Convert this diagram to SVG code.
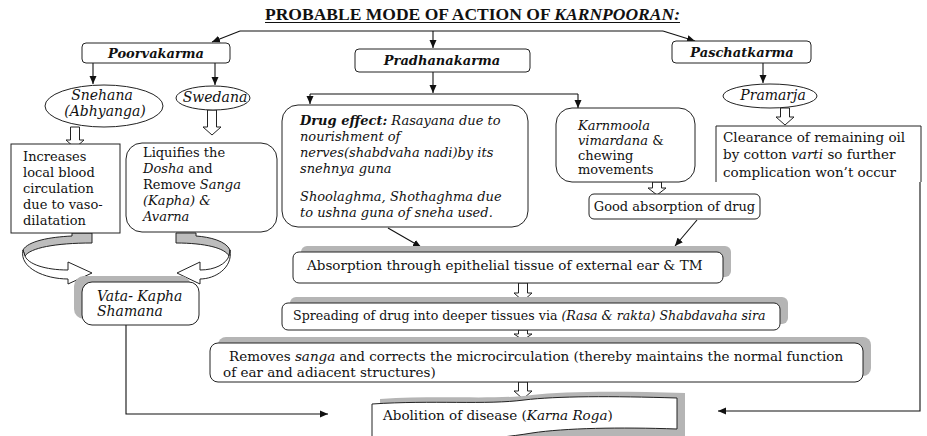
<svg xmlns="http://www.w3.org/2000/svg" width="927" height="436" viewBox="0 0 927 436">
<style>
.t{font-family:"DejaVu Serif","Liberation Serif",serif;font-size:13px;fill:#111}
.i{font-style:italic}
.b{font-weight:bold}
.box{fill:#fff;stroke:#222;stroke-width:1}
.sh{fill:#b5b5b5}
.ln{stroke:#111;stroke-width:1.1;fill:none}
.hol{fill:#fff;stroke:#222;stroke-width:1}
.gr{fill:#bdbdbd;stroke:#222;stroke-width:1}
</style>
<defs>
<marker id="ah" markerWidth="8" markerHeight="8" refX="8" refY="4" orient="auto" markerUnits="userSpaceOnUse"><path d="M0,0.5 L8,4 L0,7.5 Z" fill="#111"/></marker>
<clipPath id="clr"><rect x="716" y="120" width="210" height="62"/></clipPath>
</defs>
<rect width="927" height="436" fill="#fff"/>

<g id="title">
<text x="472.5" y="19.5" text-anchor="middle" font-family="'Liberation Serif',serif" font-weight="bold" font-size="16" fill="#111" textLength="415" lengthAdjust="spacingAndGlyphs">PROBABLE MODE OF ACTION OF  <tspan font-style="italic">KARNPOORAN:</tspan></text>
<line x1="265" y1="22.5" x2="680" y2="22.5" stroke="#111" stroke-width="1"/>
</g>

<g id="connectors">
<path class="ln" d="M240 31 H663"/>
<path class="ln" d="M240 31 L212 42" marker-end="url(#ah)"/>
<path class="ln" d="M433 31 V48" marker-end="url(#ah)"/>
<path class="ln" d="M663 31 L695 41" marker-end="url(#ah)"/>
<path class="ln" d="M93 63 V84" marker-end="url(#ah)"/>
<path class="ln" d="M215 63 V85" marker-end="url(#ah)"/>
<path class="ln" d="M433 72 V93" marker-end="url(#ah)"/>
<path class="ln" d="M310 94 H578"/>
<path class="ln" d="M310 94 V104" marker-end="url(#ah)"/>
<path class="ln" d="M578 94 V108" marker-end="url(#ah)"/>
<path class="ln" d="M763 63 V83" marker-end="url(#ah)"/>
<path class="ln" d="M388 228 L421 247" marker-end="url(#ah)"/>
<path class="ln" d="M697 220 L675 246" marker-end="url(#ah)"/>
<path class="ln" d="M126 325 V414 H328" marker-end="url(#ah)"/>
<path class="ln" d="M920 182 V411 H718" marker-end="url(#ah)"/>
<path class="hol" d="M70.5 127 H79.5 V140 H84 L75 148 L66 140 H70.5 Z"/>
<path class="hol" d="M207.5 110 H216.5 V127 H221 L212 135 L203 127 H207.5 Z"/>
<path class="hol" d="M780.5 108 H789.5 V117 H794 L785 125 L776 117 H780.5 Z"/>
<path class="hol" d="M652.5 182 H661.5 V188 H666 L657 195 L648 188 H652.5 Z"/>
<path class="hol" d="M518.5 283 H527.5 V293 H532 L523 301 L514 293 H518.5 Z"/>
<path class="hol" d="M518.5 330 H527.5 V334 H532 L523 340 L514 334 H518.5 Z"/>
<path class="hol" d="M518.5 382 H527.5 V391 H532 L523 399 L514 391 H518.5 Z"/>
<path class="gr" d="M72 233 L92 233 L92 243 C55 243 30 248 25 256 L23 250 C28 241 50 237 72 236 Z"/>
<path class="hol" d="M23 250 C19 268 45 279 68 279 L68 284 L92 273 L68 262 L68 270 C45 270 28 264 25 256 Z"/>
<path class="gr" d="M196 233 L176 233 L176 243 C205 243 225 248 229 256 L230 250 C226 241 210 237 196 236 Z"/>
<path class="hol" d="M230 250 C233 268 215 279 200 279 L200 284 L177 273 L200 262 L200 270 C215 270 226 264 229 256 Z"/>
</g>

<g id="poorvakarma">
<rect class="box" x="82" y="43" width="148" height="20" rx="4"/>
<text class="t b i" x="156" y="58" text-anchor="middle">Poorvakarma</text>
</g>
<g id="pradhanakarma">
<rect class="box" x="355" y="49" width="175" height="23" rx="4"/>
<text class="t b i" x="442" y="65" text-anchor="middle">Pradhanakarma</text>
</g>
<g id="paschatkarma">
<rect class="box" x="672" y="41" width="139" height="22" rx="4"/>
<text class="t b i" x="742" y="57" text-anchor="middle">Paschatkarma</text>
</g>

<g id="snehana">
<ellipse class="box" cx="104" cy="106" rx="59" ry="21"/>
<text class="t i" style="font-size:14px" x="102" y="100" text-anchor="middle">Snehana</text>
<text class="t i" style="font-size:14px" x="105" y="116" text-anchor="middle">(Abhyanga)</text>
</g>
<g id="swedana">
<ellipse class="box" cx="213" cy="98" rx="37" ry="12"/>
<text class="t i" style="font-size:14px" x="215" y="102" text-anchor="middle">Swedana</text>
</g>
<g id="pramarja">
<ellipse class="box" cx="770" cy="96" rx="47" ry="12"/>
<text class="t i" style="font-size:14px" x="773" y="100" text-anchor="middle">Pramarja</text>
</g>

<g id="increases">
<rect class="box" x="11" y="144" width="109" height="89"/>
<text class="t" x="23" y="161">Increases</text>
<text class="t" x="23" y="177">local blood</text>
<text class="t" x="23" y="193">circulation</text>
<text class="t" x="23" y="209">due to vaso-</text>
<text class="t" x="23" y="225">dilatation</text>
</g>
<g id="liquifies">
<rect class="box" x="126" y="143" width="151" height="89" rx="16"/>
<text class="t" x="143" y="157">Liquifies the</text>
<text class="t" x="143" y="173"><tspan class="i">Dosha</tspan> and</text>
<text class="t" x="143" y="189">Remove <tspan class="i">Sanga</tspan></text>
<text class="t i" x="143" y="205">(Kapha)  &amp;</text>
<text class="t i" x="143" y="221">Avarna</text>
</g>
<g id="drug-effect">
<rect class="box" x="282" y="105" width="246" height="122" rx="16"/>
<text class="t i" x="300" y="125"><tspan class="b">Drug effect:</tspan> Rasayana  due to</text>
<text class="t i" x="300" y="141">nourishment of</text>
<text class="t i" x="300" y="157">nerves(shabdvaha nadi)by its</text>
<text class="t i" x="300" y="173">snehnya guna</text>
<text class="t i" x="300" y="201">Shoolaghma, Shothaghma  due</text>
<text class="t i" x="300" y="217">to ushna guna of sneha used.</text>
</g>
<g id="karnmoola">
<rect class="box" x="556" y="108" width="139" height="74" rx="16"/>
<text class="t i" x="578" y="130">Karnmoola</text>
<text class="t" x="578" y="145"><tspan class="i">vimardana</tspan> &amp;</text>
<text class="t" x="578" y="160">chewing</text>
<text class="t" x="578" y="174">movements</text>
</g>
<g id="clearance">
<path class="box" d="M716 182 V126 H921 V182"/>
<g clip-path="url(#clr)">
<text class="t" style="font-size:13.5px" x="723" y="142">Clearance of remaining oil</text>
<text class="t" style="font-size:13.5px" x="723" y="159">by cotton <tspan class="i">varti</tspan> so further</text>
<text class="t" style="font-size:13.5px" x="723" y="177">complication won’t occur</text>
</g>
</g>
<g id="good-absorption">
<rect class="box" x="589" y="194" width="171" height="25" rx="5"/>
<text class="t" x="674.5" y="211" text-anchor="middle">Good absorption of drug</text>
</g>
<g id="absorption">
<rect class="sh" x="301" y="246" width="430" height="31" rx="6"/>
<rect class="box" x="293" y="252" width="430" height="31" rx="6"/>
<text class="t" style="font-size:13.5px" x="307" y="270">Absorption through epithelial tissue of external ear &amp; TM</text>
</g>
<g id="spreading">
<rect class="sh" x="290" y="297" width="498" height="27" rx="6"/>
<rect class="box" x="282" y="303" width="498" height="27" rx="6"/>
<text class="t" style="font-size:12.6px" x="293" y="320">Spreading of drug into deeper tissues via <tspan class="i">(Rasa &amp; rakta) Shabdavaha sira</tspan></text>
</g>
<g id="removes">
<rect class="sh" x="218" y="337" width="653" height="39" rx="8"/>
<rect class="box" x="210" y="343" width="653" height="39" rx="8"/>
<text class="t" style="font-size:13.5px" x="229" y="361">Removes <tspan class="i">sanga</tspan> and corrects the microcirculation (thereby maintains the normal function</text>
<text class="t" style="font-size:13.5px" x="223" y="377">of ear and adiacent structures)</text>
</g>
<g id="vata-kapha">
<rect class="sh" x="74" y="276" width="117" height="43" rx="10"/>
<rect class="box" x="82" y="282" width="117" height="43" rx="10"/>
<text class="t i" style="font-size:14px" x="97" y="301">Vata- Kapha</text>
<text class="t i" style="font-size:14px" x="97" y="316">Shamana</text>
</g>
<g id="abolition">
<path class="sh" d="M380 436 V399 C440 395 495 400 532 395 C565 391 620 391 685 393 V436 Z"/>
<path class="box" d="M372 442 V404 C432 400 487 405 524 400 C557 396 612 396 677 398 V429 C620 427 565 428 532 433 C490 440 430 443 372 442 Z"/>
<text class="t" style="font-size:13.5px" x="383" y="420">Abolition of disease (<tspan class="i">Karna Roga</tspan>)</text>
</g>
</svg>
